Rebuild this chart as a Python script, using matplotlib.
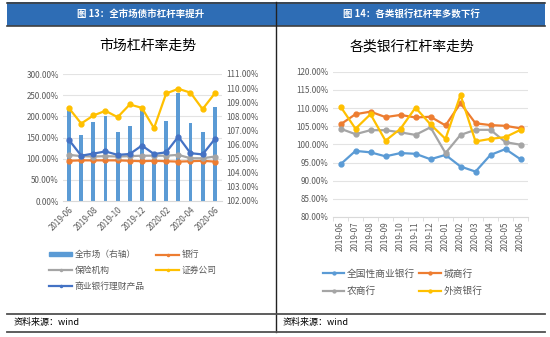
import matplotlib
matplotlib.use('Agg')
import matplotlib.pyplot as plt
import matplotlib.transforms as mtransforms
from matplotlib.patches import Rectangle
from matplotlib.lines import Line2D
from matplotlib.ticker import FuncFormatter

plt.rcParams['font.family'] = ['Noto Sans CJK SC', 'DejaVu Sans']

# 数据
months = ['2019-06', '2019-07', '2019-08', '2019-09', '2019-10', '2019-11', '2019-12',
          '2020-01', '2020-02', '2020-03', '2020-04', '2020-05', '2020-06']
market = [108.45, 106.67, 107.62, 108.02, 106.91, 107.29, 108.45, 104.66, 107.69, 109.63, 107.5, 106.86, 108.68]
bank = [95, 96, 96, 96, 96, 95, 94, 95, 94, 93, 94, 95, 93]
insurance = [109, 106, 105, 106, 105, 106, 107, 107, 107, 109, 101, 101, 105]
securities = [219, 183, 202, 213, 198, 228, 220, 172, 254, 265, 256, 217, 254]
wmp = [144, 107, 112, 117, 109, 111, 131, 111, 115, 152, 113, 110, 146]

national = [94.5, 98.2, 97.8, 96.7, 97.6, 97.4, 95.9, 97.1, 93.9, 92.5, 97.1, 98.7, 95.9]
city = [105.5, 108.3, 109.0, 107.5, 108.1, 107.4, 107.6, 105.2, 111.3, 105.8, 105.3, 105.1, 104.4]
rural = [104.3, 102.8, 103.9, 103.9, 103.3, 102.6, 104.7, 97.6, 102.6, 104.0, 104.0, 100.6, 99.9]
foreign = [110.4, 104.3, 108.3, 101.0, 104.3, 110.1, 105.5, 101.5, 113.6, 100.8, 101.5, 102.0, 104.0]

BLUE, ORANGE, GRAY, YELLOW, DBLUE = '#5B9BD5', '#ED7D31', '#A5A5A5', '#FFC000', '#4472C4'
TICK = '#595959'
W, H = 550, 337

fig = plt.figure(figsize=(5.5, 3.37), dpi=100)


def fx(x):
    return x / W


def fy(y):
    return 1 - y / H


pct = FuncFormatter(lambda v, p: '%.2f%%' % v)

# 顶部标题栏
fig.patches.append(Rectangle((fx(7), fy(26)), fx(538), 24 / H, transform=fig.transFigure,
                             facecolor='#2E6DB5', edgecolor='none', zorder=0))
for yy in (2.5, 25.5):
    fig.add_artist(Line2D([fx(7), fx(545)], [fy(yy), fy(yy)], color='#404040', lw=1.2))
fig.add_artist(Line2D([fx(275.5), fx(275.5)], [fy(2), fy(332)], color='#222222', lw=1.0))
for yy in (313.5, 331.5):
    fig.add_artist(Line2D([fx(7), fx(545)], [fy(yy), fy(yy)], color='#505050', lw=1.3))

fig.text(fx(141), fy(14), '图 13：全市场债市杠杆率提升', color='white', fontsize=6.8,
         fontweight='bold', ha='center', va='center')
fig.text(fx(411), fy(14), '图 14：各类银行杠杆率多数下行', color='white', fontsize=6.8,
         fontweight='bold', ha='center', va='center')
fig.text(fx(148), fy(46), '市场杠杆率走势', fontsize=10, ha='center', va='center')
fig.text(fx(412), fy(46), '各类银行杠杆率走势', fontsize=10, ha='center', va='center')
fig.text(fx(14), fy(322.5), '资料来源：wind', fontsize=6.5, style='italic', va='center')
fig.text(fx(283), fy(322.5), '资料来源：wind', fontsize=6.5, style='italic', va='center')

# 左图：柱子在右轴，折线在左轴
x = list(range(len(months)))
ax = fig.add_axes([fx(63), fy(201), 159 / W, 127 / H])
ax.bar(x, [v - 102 for v in market], bottom=102, width=0.32, color=BLUE, zorder=2)
ax.set_ylim(102, 111)
ax.set_xlim(-0.5, 12.6)
ax.set_xticks(x[::2])
ax.set_xticklabels(months[::2], rotation=45, ha='right', rotation_mode='anchor')

ax2 = ax.twinx()
ax.yaxis.tick_right()
ax.set_yticks(range(102, 112))
ax.yaxis.set_major_formatter(pct)
ax.tick_params(axis='both', labelsize=5.8, colors=TICK, length=0, pad=3)
for s in ['top', 'left', 'right']:
    ax.spines[s].set_visible(False)
ax.spines['bottom'].set_color('#D9D9D9')

ax2.yaxis.tick_left()
ax2.set_ylim(0, 300)
ax2.set_yticks(range(0, 301, 50))
ax2.yaxis.set_major_formatter(pct)
ax2.tick_params(axis='y', labelsize=5.8, colors=TICK, length=0, pad=3)
for s in ['top', 'left', 'right', 'bottom']:
    ax2.spines[s].set_visible(False)
tr = mtransforms.blended_transform_factory(ax.transAxes, ax2.transData)
for v in range(50, 301, 50):
    ax.plot([0, 1], [v, v], transform=tr, color='#E3E3E3', lw=0.8, zorder=1)

ax2.plot(x, bank, color=ORANGE, lw=1.6, marker='o', ms=3.5)
ax2.plot(x, insurance, color=GRAY, lw=1.6, marker='o', ms=3.5)
ax2.plot(x, securities, color=YELLOW, lw=1.6, marker='o', ms=3.5)
ax2.plot(x, wmp, color=DBLUE, lw=1.6, marker='o', ms=3.5)

h_market = Rectangle((0, 0), 1, 1, color=BLUE)
h_bank = Line2D([], [], color=ORANGE, lw=1.6, marker='o', ms=1.5)
h_ins = Line2D([], [], color=GRAY, lw=1.6, marker='o', ms=1.5)
h_sec = Line2D([], [], color=YELLOW, lw=1.6, marker='o', ms=1.5)
h_wmp = Line2D([], [], color=DBLUE, lw=1.6, marker='o', ms=1.5)
fig.legend([h_market, h_ins, h_wmp, h_bank, h_sec],
           ['全市场（右轴）', '保险机构', '商业银行理财产品', '银行', '证券公司'],
           ncol=2, loc='upper left', bbox_to_anchor=(fx(45), fy(246)), frameon=False,
           fontsize=6.3, labelcolor=TICK, handlelength=2.6, handleheight=0.3,
           handletextpad=0.3, columnspacing=1.3, labelspacing=0.75, borderpad=0)

# 右图
bx = fig.add_axes([fx(333), fy(217), 195 / W, 145.3 / H])
bx.plot(x, national, color=BLUE, lw=1.6, marker='o', ms=3.5, label='全国性商业银行')
bx.plot(x, city, color=ORANGE, lw=1.6, marker='o', ms=3.5, label='城商行')
bx.plot(x, rural, color=GRAY, lw=1.6, marker='o', ms=3.5, label='农商行')
bx.plot(x, foreign, color=YELLOW, lw=1.6, marker='o', ms=3.5, label='外资银行')
bx.set_ylim(80, 120)
bx.set_yticks(range(80, 121, 5))
bx.yaxis.set_major_formatter(pct)
bx.grid(axis='y', color='#E3E3E3', lw=0.8)
bx.set_axisbelow(True)
bx.set_xlim(-0.5, 12.5)
bx.set_xticks(x)
bx.set_xticklabels(months, rotation=90)
bx.set_xticks([i + 0.5 for i in range(-1, 13)], minor=True)
bx.tick_params(axis='both', which='major', labelsize=5.8, colors=TICK, length=0, pad=3)
bx.tick_params(axis='x', which='minor', length=3, color='#D9D9D9')
for s in ['top', 'left', 'right']:
    bx.spines[s].set_visible(False)
bx.spines['bottom'].set_color('#D9D9D9')

hs, ls = bx.get_legend_handles_labels()
fig.legend([hs[0], hs[2], hs[1], hs[3]], [ls[0], ls[2], ls[1], ls[3]],
           ncol=2, loc='upper left', bbox_to_anchor=(fx(318), fy(264)), frameon=False,
           fontsize=7, labelcolor=TICK, handlelength=2.2, markerscale=0.6,
           handletextpad=0.3, columnspacing=0.4, labelspacing=0.75, borderpad=0)

fig.savefig('out.png', dpi=100)
